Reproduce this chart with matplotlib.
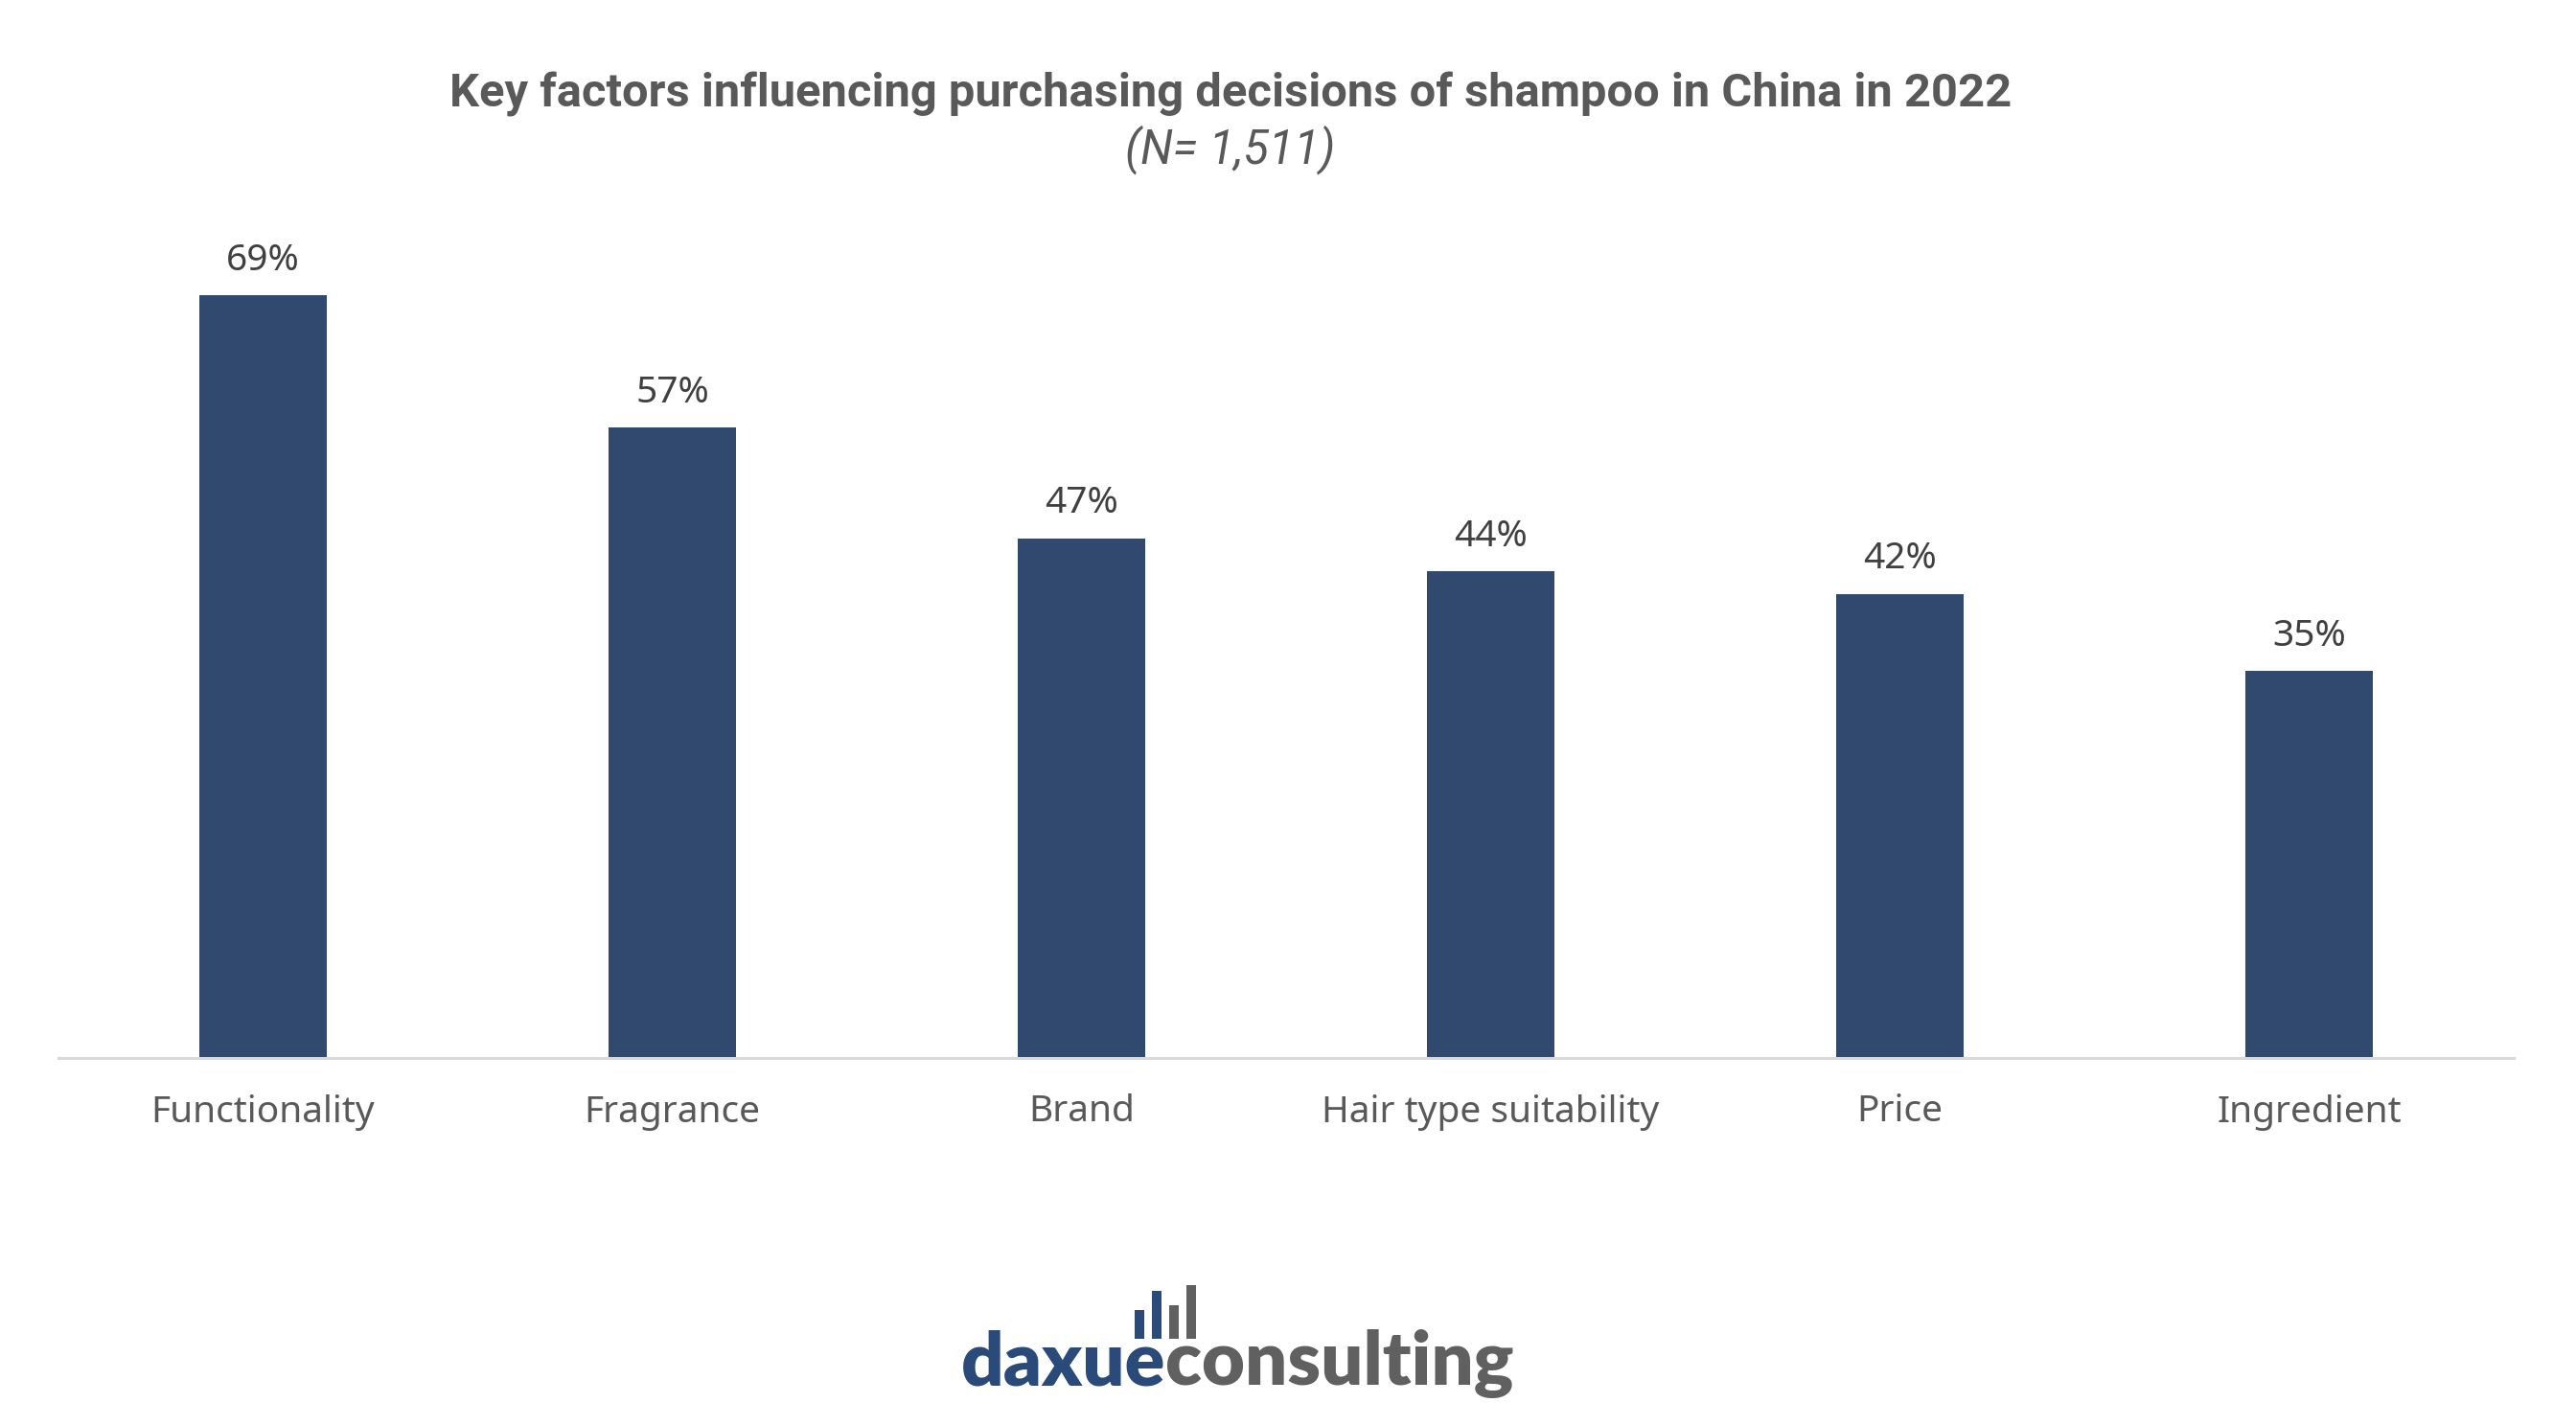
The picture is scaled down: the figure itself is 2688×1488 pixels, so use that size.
import matplotlib
matplotlib.use("Agg")
import matplotlib.pyplot as plt
from matplotlib.patches import Rectangle

# data
factors = ["Functionality", "Fragrance", "Brand", "Hair type suitability", "Price", "Ingredient"]
shares = [69, 57, 47, 44, 42, 35]
value_labels = ["69%", "57%", "47%", "44%", "42%", "35%"]

title = "Key factors influencing purchasing decisions of shampoo in China in 2022"
subtitle = "(N= 1,511)"

BAR_COLOR = "#31486F"
W, H = 2688, 1488

fig = plt.figure(figsize=(W / 100, H / 100), dpi=100)
fig.patch.set_facecolor("white")

# axes placed so the baseline sits where the reference has it
ax = fig.add_axes([61 / W, (H - 1104) / H, (2623 - 61) / W, 864 / H])
x = range(len(factors))
ax.bar(x, shares, width=0.31, color=BAR_COLOR, zorder=2)
ax.set_xlim(-0.5, len(factors) - 0.5)
ax.set_ylim(0, 74.9)

for i, (v, lab) in enumerate(zip(shares, value_labels)):
    ax.annotate(lab, (i, v), xytext=(0, 19), textcoords="offset points",
                ha="center", va="baseline", fontsize=28, color="#404040",
                family="Noto Sans")

ax.set_xticks(list(x))
ax.set_xticklabels(factors, fontsize=28, color="#595959", family="Noto Sans")
ax.tick_params(axis="x", length=0, pad=27)
ax.set_yticks([])
for side in ["top", "right", "left"]:
    ax.spines[side].set_visible(False)
ax.spines["bottom"].set_color("#D9D9D9")
ax.spines["bottom"].set_linewidth(2.2)

# title block
fig.text(1284 / W, 1 - 111 / H, title, ha="center", va="baseline",
         fontsize=35.2, fontweight="bold", color="#595959", family="Roboto")
fig.text(1284 / W, 1 - 170 / H, subtitle, ha="center", va="baseline",
         fontsize=35, style="italic", color="#595959", family="Roboto")

# daxue consulting logo
logo_y = 1 - 1445 / H
t1 = fig.text(1003 / W, logo_y, "daxue", ha="left", va="baseline",
              fontsize=56, fontweight="heavy", color="#2A4A7A", family="Lato")
fig.canvas.draw()
x_end = t1.get_window_extent().x1 / W
fig.text(x_end, logo_y, "consulting", ha="left", va="baseline", fontsize=56,
         fontweight="heavy", color="#606060", family="Lato")
icon = [(1184, 1367, "#2A4A7A"), (1202, 1347, "#2A4A7A"),
        (1220, 1362, "#606060"), (1238, 1341, "#606060")]
for left, top, col in icon:
    fig.add_artist(Rectangle((left / W, 1 - 1397 / H), 10 / W, (1397 - top) / H,
                             transform=fig.transFigure, color=col, lw=0))

fig.savefig("out.png", dpi=100, facecolor="white")
